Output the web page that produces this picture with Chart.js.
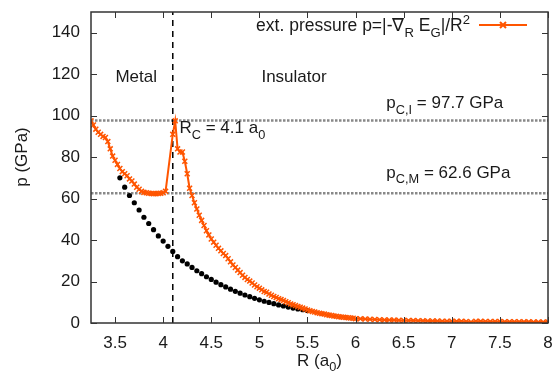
<!DOCTYPE html>
<html>
<head>
<meta charset="utf-8">
<script src="https://cdn.jsdelivr.net/npm/chart.js@4.4.0/dist/chart.umd.min.js"></script>
<style>
  html, body { margin: 0; padding: 0; background: #fff; }
  #wrap { width: 555px; height: 375px; }
</style>
</head>
<body>
<div id="wrap"><canvas id="chart" width="555" height="375"></canvas></div>
<script>
// ext. pressure (orange x markers)
const rOrange = [
  3.25, 3.275, 3.3, 3.325, 3.35, 3.375, 3.4, 3.425, 3.45, 3.475,
  3.5, 3.525, 3.55, 3.575, 3.6, 3.625, 3.65, 3.675, 3.7, 3.725,
  3.75, 3.775, 3.8, 3.825, 3.85, 3.875, 3.9, 3.925, 3.95, 3.975,
  4.0, 4.025, 4.1, 4.125, 4.15, 4.175, 4.2, 4.225, 4.25, 4.275,
  4.3, 4.325, 4.35, 4.375, 4.4, 4.425, 4.45, 4.475, 4.5, 4.525,
  4.55, 4.575, 4.6, 4.625, 4.65, 4.675, 4.7, 4.725, 4.75, 4.775,
  4.8, 4.825, 4.85, 4.875, 4.9, 4.925, 4.95, 4.975, 5.0, 5.025,
  5.05, 5.075, 5.1, 5.125, 5.15, 5.175, 5.2, 5.225, 5.25, 5.275,
  5.3, 5.325, 5.35, 5.375, 5.4, 5.425, 5.45, 5.475, 5.5, 5.525,
  5.55, 5.575, 5.6, 5.625, 5.65, 5.675, 5.7, 5.725, 5.75, 5.775,
  5.8, 5.825, 5.85, 5.875, 5.9, 5.925, 5.95, 5.975, 6.0,
  6.05, 6.1, 6.15, 6.2, 6.25, 6.3, 6.35, 6.4, 6.45, 6.5,
  6.55, 6.6, 6.65, 6.7, 6.75, 6.8, 6.85, 6.9, 6.95, 7.0,
  7.05, 7.1, 7.15, 7.2, 7.25, 7.3, 7.35, 7.4, 7.45, 7.5,
  7.55, 7.6, 7.65, 7.7, 7.75, 7.8, 7.85, 7.9, 7.95, 8.0
];
const pOrange = [
  97.5, 95.5, 93.5, 92, 91, 90, 89.5, 87.5, 84, 80.5,
  78.5, 76.5, 74.5, 73, 72, 71, 69.5, 68.5, 67, 65.5,
  64.5, 63.5, 63, 62.8, 62.6, 62.5, 62.4, 62.4, 62.5, 62.6,
  62.8, 63.5, 91, 97.5, 84, 82.5, 82.5, 78, 72, 65,
  61.5, 58, 55, 52, 49.5, 47, 44.5, 42.5, 40.5, 39,
  37.5, 36, 34.8, 33.5, 32.5, 31, 29.5, 28, 26.8, 25.5,
  24.3, 23, 22, 21, 20.2, 19.3, 18.3, 17.5, 16.8, 16,
  15.2, 14.8, 14, 13.4, 12.8, 12.3, 11.7, 11.3, 10.8, 10.3,
  9.8, 9.2, 8.8, 8.4, 8, 7.6, 7.2, 6.8, 6.3, 5.9,
  5.6, 5.3, 5, 4.7, 4.5, 4.3, 4.0, 3.8, 3.6, 3.4,
  3.2, 3.0, 2.9, 2.8, 2.6, 2.5, 2.4, 2.3, 2.1,
  2.0, 1.9, 1.8, 1.7, 1.6, 1.5, 1.45, 1.4, 1.3, 1.25,
  1.2, 1.15, 1.1, 1.05, 1.0, 1.0, 0.95, 0.9, 0.9, 0.85,
  0.8, 0.8, 0.75, 0.5, 0.9, 0.8, 0.75, 0.7, 0.7, 0.7,
  0.65, 0.6, 0.6, 0.6, 0.55, 0.55, 0.5, 0.5, 0.5, 0.45
];

// black dots
const rBlack = [
  3.55, 3.6, 3.65, 3.7, 3.75, 3.8, 3.85, 3.9, 3.95, 4.0,
  4.05, 4.1, 4.15, 4.2, 4.25, 4.3, 4.35, 4.4, 4.45, 4.5,
  4.55, 4.6, 4.65, 4.7, 4.75, 4.8, 4.85, 4.9, 4.95, 5.0,
  5.05, 5.1, 5.15, 5.2, 5.25, 5.3, 5.35, 5.4, 5.45, 5.5
];
const pBlack = [
  70, 65.5, 61.5, 58, 54.5, 51, 48, 45, 42, 39.5,
  37, 34.5, 32, 30, 28.5, 26.8, 25.2, 23.8, 22.3, 21,
  19.7, 18.5, 17.4, 16.3, 15.3, 14.4, 13.5, 12.7, 11.9, 11.2,
  10.5, 9.9, 9.3, 8.7, 8.2, 7.7, 7.2, 6.8, 6.4, 6.0
];

const rC = 4.1;
const pCI = 97.7;
const pCM = 62.6;

const xTicks = [3.5, 4, 4.5, 5, 5.5, 6, 6.5, 7, 7.5, 8];
const yTicks = [0, 20, 40, 60, 80, 100, 120, 140];

const FONT = '"Liberation Sans", Arial, Helvetica, sans-serif';
const ORANGE = '#ff5500';

// draw text with _sub / ^sup parts: segments [text, 0 normal | 1 sub | 2 sup]
function richWidth(ctx, segs, size) {
  let w = 0;
  segs.forEach(s => {
    ctx.font = (s[1] ? size * 0.75 : size) + 'px ' + FONT;
    w += ctx.measureText(s[0]).width;
  });
  return w;
}
function richText(ctx, segs, x, y, size) {
  segs.forEach(s => {
    ctx.font = (s[1] ? size * 0.75 : size) + 'px ' + FONT;
    let dy = s[1] === 1 ? size * 0.32 : (s[1] === 2 ? -size * 0.42 : 0);
    ctx.fillText(s[0], x, y + dy);
    x += ctx.measureText(s[0]).width;
  });
}

const frame = {
  id: 'frame',
  afterDraw(chart) {
    const ctx = chart.ctx;
    const a = chart.chartArea;
    const xs = chart.scales.x, ys = chart.scales.y;
    ctx.save();
    ctx.strokeStyle = '#333';
    ctx.lineWidth = 1.5;
    ctx.strokeRect(a.left, a.top, a.right - a.left, a.bottom - a.top);
    ctx.lineWidth = 1;
    ctx.beginPath();
    xTicks.forEach(v => {
      const px = Math.round(xs.getPixelForValue(v)) + 0.5;
      ctx.moveTo(px, a.bottom); ctx.lineTo(px, a.bottom - 6);
      ctx.moveTo(px, a.top); ctx.lineTo(px, a.top + 6);
    });
    yTicks.forEach(v => {
      const py = Math.round(ys.getPixelForValue(v)) + 0.5;
      ctx.moveTo(a.left, py); ctx.lineTo(a.left + 6, py);
      ctx.moveTo(a.right, py); ctx.lineTo(a.right - 6, py);
    });
    ctx.stroke();

    ctx.fillStyle = '#1a1a1a';
    ctx.textBaseline = 'alphabetic';
    ctx.textAlign = 'left';

    // axis titles
    const xt = [['R (a', 0], ['0', 1], [')', 0]];
    richText(ctx, xt, (a.left + a.right) / 2 - richWidth(ctx, xt, 17) / 2, 366, 17);
    ctx.save();
    ctx.translate(27, 157);
    ctx.rotate(-Math.PI / 2);
    ctx.font = '17px ' + FONT;
    ctx.textAlign = 'center';
    ctx.fillText('p (GPa)', 0, 0);
    ctx.restore();

    // labels in the plot
    ctx.font = '17px ' + FONT;
    ctx.textAlign = 'center';
    ctx.fillText('Metal', xs.getPixelForValue(3.72), ys.getPixelForValue(116));
    ctx.fillText('Insulator', xs.getPixelForValue(5.36), ys.getPixelForValue(116));
    ctx.textAlign = 'left';
    richText(ctx, [['R', 0], ['C', 1], [' = 4.1 a', 0], ['0', 1]],
      xs.getPixelForValue(4.17), ys.getPixelForValue(91.5), 17);
    richText(ctx, [['p', 0], ['C,I', 1], [' = 97.7 GPa', 0]],
      xs.getPixelForValue(6.32), ys.getPixelForValue(103.5), 17);
    richText(ctx, [['p', 0], ['C,M', 1], [' = 62.6 GPa', 0]],
      xs.getPixelForValue(6.32), ys.getPixelForValue(70), 17);

    // key
    const key = [['ext. pressure p=|-\u2207', 0], ['R', 1], [' E', 0], ['G', 1], ['|/R', 0], ['2', 2]];
    richText(ctx, key, 470 - richWidth(ctx, key, 17.5), 31, 17.5);
    ctx.strokeStyle = ORANGE;
    ctx.lineWidth = 2;
    ctx.beginPath();
    ctx.moveTo(479, 25); ctx.lineTo(527, 25);
    ctx.moveTo(500, 22); ctx.lineTo(506, 28);
    ctx.moveTo(506, 22); ctx.lineTo(500, 28);
    ctx.stroke();
    ctx.restore();
  }
};

const ctx = document.getElementById('chart').getContext('2d');
new Chart(ctx, {
  type: 'scatter',
  data: {
    datasets: [
      {
        label: 'ext. pressure',
        data: rOrange.map((r, i) => ({ x: r, y: pOrange[i] })),
        showLine: true,
        borderColor: ORANGE,
        borderWidth: 2,
        pointStyle: 'crossRot',
        pointRadius: 3.5,
        pointBorderColor: ORANGE,
        pointBorderWidth: 1.5,
        order: 0
      },
      {
        label: 'fit',
        data: rBlack.map((r, i) => ({ x: r, y: pBlack[i] })),
        pointStyle: 'circle',
        pointRadius: 2.6,
        pointBackgroundColor: '#000',
        pointBorderWidth: 0,
        order: 1
      },
      {
        label: 'pCI',
        data: [{ x: 3.25, y: pCI }, { x: 8, y: pCI }],
        showLine: true,
        borderColor: '#888',
        borderWidth: 2.5,
        borderDash: [2.5, 1.5],
        pointRadius: 0,
        order: 3
      },
      {
        label: 'pCM',
        data: [{ x: 3.25, y: pCM }, { x: 8, y: pCM }],
        showLine: true,
        borderColor: '#888',
        borderWidth: 2.5,
        borderDash: [2.5, 1.5],
        pointRadius: 0,
        order: 3
      },
      {
        label: 'RC',
        data: [{ x: rC, y: 0 }, { x: rC, y: 150 }],
        showLine: true,
        borderColor: '#000',
        borderWidth: 1.5,
        borderDash: [6, 5],
        pointRadius: 0,
        order: 2
      }
    ]
  },
  options: {
    responsive: false,
    animation: false,
    layout: { padding: { left: 0, right: 7, top: 12, bottom: 0 } },
    plugins: { legend: { display: false }, tooltip: { enabled: false } },
    scales: {
      x: {
        type: 'linear',
        min: 3.25,
        max: 8,
        afterBuildTicks: s => { s.ticks = xTicks.map(v => ({ value: v })); },
        afterFit: s => { s.height = 52; s.paddingLeft = 0; s.paddingRight = 0; },
        grid: { display: false, drawTicks: false },
        border: { display: false },
        ticks: {
          font: { family: FONT, size: 17 }, color: '#1a1a1a', padding: 10, maxRotation: 0,
          callback: v => String(v)
        }
      },
      y: {
        type: 'linear',
        min: 0,
        max: 150,
        afterBuildTicks: s => { s.ticks = yTicks.map(v => ({ value: v })); },
        afterFit: s => { s.width = 91; s.paddingTop = 0; s.paddingBottom = 0; },
        grid: { display: false, drawTicks: false },
        border: { display: false },
        ticks: { font: { family: FONT, size: 17 }, color: '#1a1a1a', padding: 11 }
      }
    }
  },
  plugins: [frame]
});
</script>
</body>
</html>
